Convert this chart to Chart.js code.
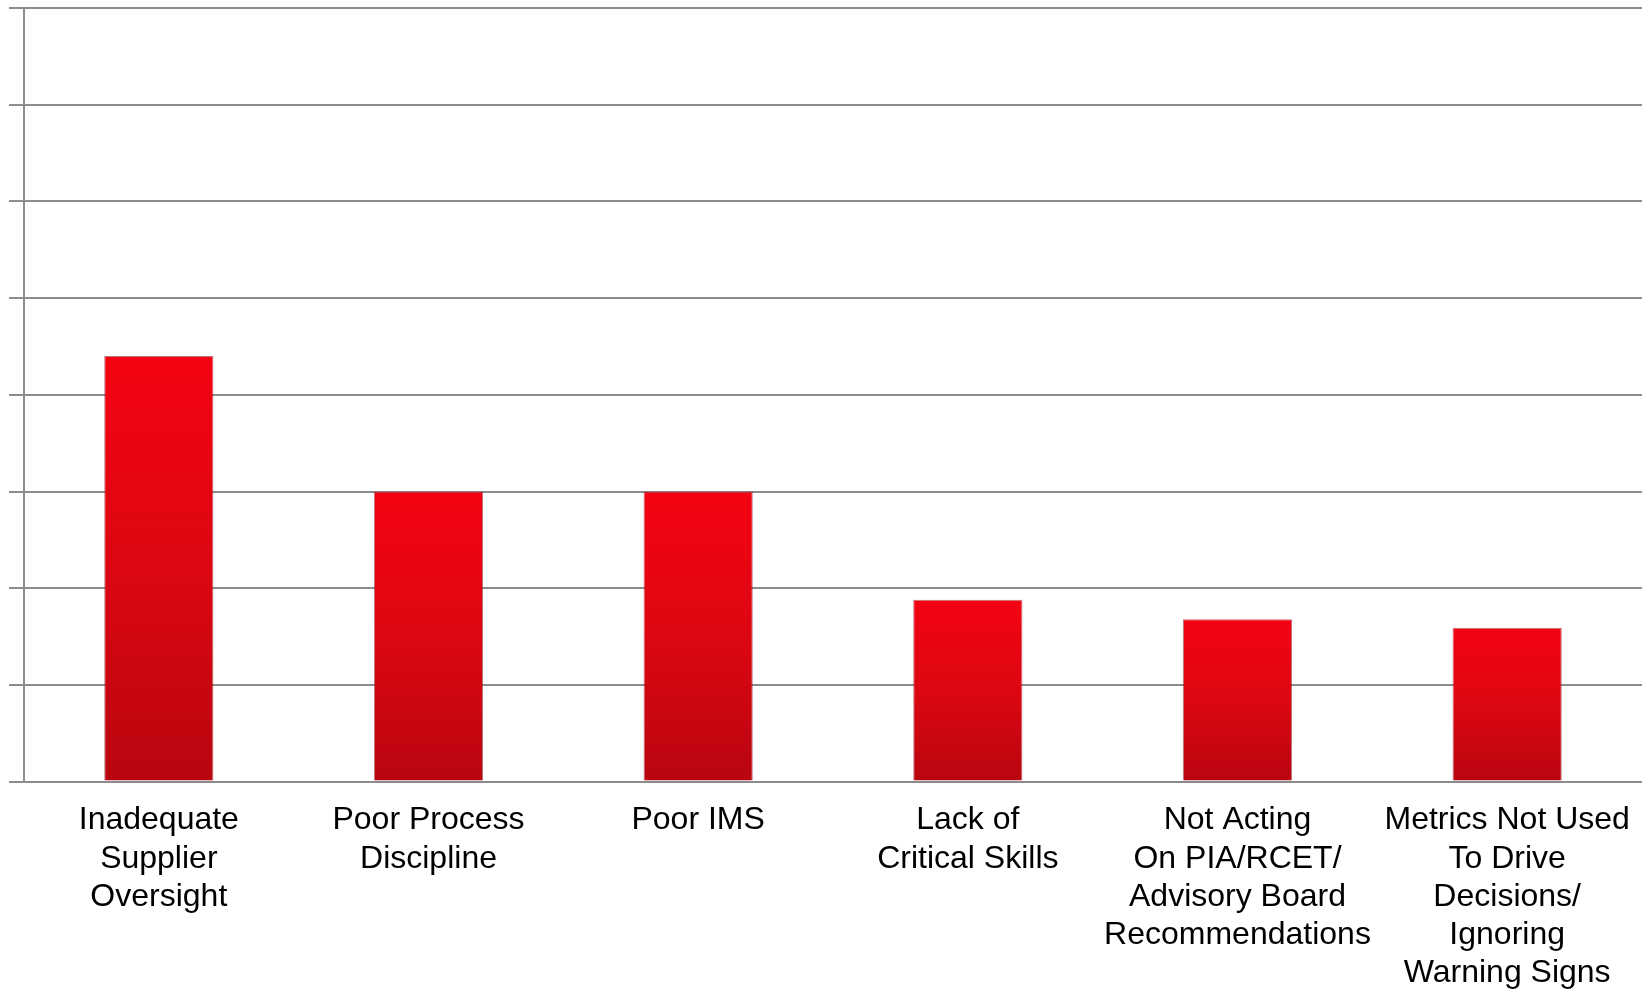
<!DOCTYPE html>
<html>
<head>
<meta charset="utf-8">
<script src="https://cdn.jsdelivr.net/npm/chart.js@4/dist/chart.umd.min.js"></script>
<style>
  html, body { margin: 0; padding: 0; background: #fff; }
  #wrap { width: 1646px; height: 992px; }
</style>
</head>
<body>
<div id="wrap"><canvas id="causesChart"></canvas></div>
<script>
// Root causes - bar heights (axis has no labels, 0..8 grid)
const categories = [
    ['Inadequate', 'Supplier', 'Oversight'],
    ['Poor Process', 'Discipline'],
    ['Poor IMS'],
    ['Lack of', 'Critical Skills'],
    ['Not Acting', 'On PIA/RCET/', 'Advisory Board', 'Recommendations'],
    ['Metrics Not Used', 'To Drive', 'Decisions/', 'Ignoring', 'Warning Signs']
];
const values = [4.4, 3.0, 3.0, 1.88, 1.68, 1.59];
const yMax = 8;
const yStep = 1;

// Red gradient per bar, bright at the top, darker at the base
function barGradient(context) {
    const chart = context.chart;
    const area = chart.chartArea;
    if (!area) return '#e0000f';
    const yScale = chart.scales.y;
    const top = yScale.getPixelForValue(context.raw);
    const bottom = yScale.getPixelForValue(0);
    const g = chart.ctx.createLinearGradient(0, top, 0, bottom);
    g.addColorStop(0, '#f40312');
    g.addColorStop(0.5, '#dc0712');
    g.addColorStop(1, '#b8050f');
    return g;
}

const ctx = document.getElementById('causesChart').getContext('2d');
new Chart(ctx, {
    type: 'bar',
    data: {
        labels: categories,
        datasets: [{
            data: values,
            backgroundColor: barGradient,
            borderColor: 'rgba(130, 0, 8, 0.55)',
            borderWidth: 1,
            categoryPercentage: 1,
            barPercentage: 0.405
        }]
    },
    options: {
        responsive: true,
        maintainAspectRatio: false,
        animation: false,
        layout: {
            padding: { left: 9, right: 4, top: 8, bottom: -20 }
        },
        plugins: {
            legend: { display: false },
            tooltip: { enabled: false }
        },
        scales: {
            x: {
                grid: { display: false, drawTicks: false },
                border: { display: false },
                // last label may hang into the margin, like the original
                afterFit: function(scale) {
                    scale.paddingRight = 0;
                },
                ticks: {
                    color: '#000',
                    maxRotation: 0,
                    autoSkip: false,
                    padding: 20,
                    font: { family: '"Liberation Sans", Arial, sans-serif', size: 32, lineHeight: 1.19 }
                }
            },
            y: {
                min: 0,
                max: yMax,
                ticks: { stepSize: yStep, display: false },
                grid: { color: '#8c8c8c', lineWidth: 2, tickLength: 15 },
                border: { color: '#8c8c8c', width: 2 }
            }
        }
    }
});
</script>
</body>
</html>
